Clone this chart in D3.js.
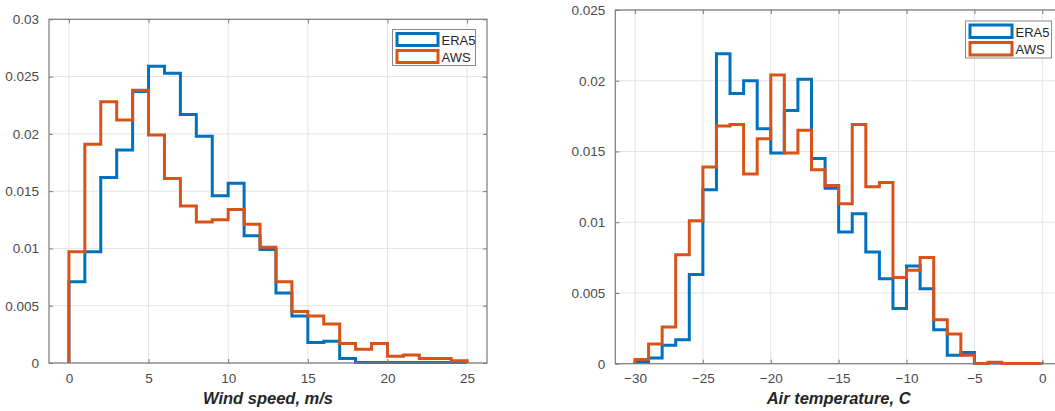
<!DOCTYPE html>
<html><head><meta charset="utf-8">
<script src="https://cdn.jsdelivr.net/npm/d3@7"></script>
<style>body{margin:0;background:#fff}svg{display:block}text{font-family:"Liberation Sans",Arial,sans-serif}</style>
</head><body>
<svg id="c" width="1055" height="411"></svg>
<script>
// ---- data ----
const seriesNames = ["ERA5", "AWS"];
const seriesColors = ["#0072BD", "#D95319"];

const windEdges = [0,1,2,3,4,5,6,7,8,9,10,11,12,13,14,15,16,17,18,19,20,21,22,23,24,25];
const windERA5 = [0.0071,0.0097,0.0162,0.0186,0.0237,0.0259,0.0253,0.0217,0.0198,0.0146,0.0157,0.0111,0.0099,0.0061,0.0041,0.0018,0.0019,0.0004,0.00005,0.00005,0.00005,0.00005,0.00005,0.00005,0.00005];
const windAWS  = [0.0097,0.0191,0.0228,0.0212,0.0238,0.0199,0.0161,0.0137,0.0123,0.0125,0.0134,0.0121,0.0101,0.0071,0.0045,0.0041,0.0034,0.0017,0.0012,0.0017,0.0006,0.0007,0.0004,0.0004,0.0002];
const windXTicks = [0,5,10,15,20,25];
const windYTicks = [0,0.005,0.01,0.015,0.02,0.025,0.03];

const tempEdges = [-30,-29,-28,-27,-26,-25,-24,-23,-22,-21,-20,-19,-18,-17,-16,-15,-14,-13,-12,-11,-10,-9,-8,-7,-6,-5,-4,-3,-2,-1,0];
const tempERA5 = [0.0001,0.0004,0.0013,0.0017,0.0063,0.0123,0.0219,0.0191,0.0200,0.0166,0.0149,0.0179,0.0201,0.0145,0.0124,0.0093,0.0106,0.0079,0.0060,0.0039,0.0069,0.0053,0.0024,0.0006,0.0008,0.00002,0.00005,0.00002,0.00001,0.00001];
const tempAWS  = [0.0003,0.0014,0.0026,0.0077,0.0101,0.0139,0.0168,0.0169,0.0134,0.0159,0.0204,0.0149,0.0165,0.0137,0.0126,0.0113,0.0169,0.0125,0.0128,0.0061,0.0066,0.0075,0.0031,0.0021,0.0006,0.00002,0.0001,0.00002,0.00001,0.00001];
const tempXTicks = [-30,-25,-20,-15,-10,-5,0];
const tempYTicks = [0,0.005,0.01,0.015,0.02,0.025];

const svg = d3.select("#c");

function panel(cfg){
  const g = svg.append("g");
  const x = d3.scaleLinear().domain(cfg.xDomain).range([cfg.left, cfg.right]);
  const y = d3.scaleLinear().domain(cfg.yDomain).range([cfg.bottom, cfg.top]);
  // grid
  g.append("g").selectAll("line.gx").data(cfg.xTicks).join("line")
    .attr("x1", d=>x(d)).attr("x2", d=>x(d)).attr("y1", cfg.top).attr("y2", cfg.bottom)
    .attr("stroke", "#e3e3e3").attr("stroke-width", 1);
  g.append("g").selectAll("line.gy").data(cfg.yTicks).join("line")
    .attr("x1", cfg.left).attr("x2", cfg.right).attr("y1", d=>y(d)).attr("y2", d=>y(d))
    .attr("stroke", "#e3e3e3").attr("stroke-width", 1);
  // stairs
  const line = d3.line().x(d=>x(d[0])).y(d=>y(d[1])).curve(d3.curveStepAfter);
  cfg.series.forEach((vals, si) => {
    const e = cfg.edges;
    const pts = [[e[0], 0]];
    vals.forEach((v, i) => pts.push([e[i], v]));
    pts.push([e[vals.length], vals[vals.length-1]]);
    pts.push([e[vals.length], 0]);
    g.append("path").attr("d", line(pts)).attr("fill", "none")
      .attr("stroke", seriesColors[si]).attr("stroke-width", 3).attr("stroke-linejoin", "miter");
  });
  // frame
  g.append("rect").attr("x", cfg.left).attr("y", cfg.top)
    .attr("width", cfg.right - cfg.left).attr("height", cfg.bottom - cfg.top)
    .attr("fill", "none").attr("stroke", "#7a7a7a").attr("stroke-width", 1.2);
  // axes (inward ticks)
  const tc = "#7a7a7a";
  const ax = g.append("g").attr("transform", `translate(0,${cfg.bottom})`)
    .call(d3.axisBottom(x).tickValues(cfg.xTicks).tickSize(-4).tickPadding(10).tickFormat(d3.format("")));
  const axt = g.append("g").attr("transform", `translate(0,${cfg.top})`)
    .call(d3.axisTop(x).tickValues(cfg.xTicks).tickSize(-4).tickFormat(""));
  const ay = g.append("g").attr("transform", `translate(${cfg.left},0)`)
    .call(d3.axisLeft(y).tickValues(cfg.yTicks).tickSize(-4).tickPadding(10).tickFormat(d=>d3.format("")(+d.toFixed(3))));
  const ayr = g.append("g").attr("transform", `translate(${cfg.right},0)`)
    .call(d3.axisRight(y).tickValues(cfg.yTicks).tickSize(-4).tickFormat(""));
  [ax, axt, ay, ayr].forEach(a => {
    a.select(".domain").remove();
    a.selectAll(".tick line").attr("stroke", tc);
    a.selectAll("text").attr("fill", "#4a4a4a").style("font-size", "13.5px")
      .style("font-family", '"Liberation Sans",Arial,sans-serif');
  });
  // x label
  g.append("text").attr("x", (cfg.left + cfg.right)/2).attr("y", 403.5)
    .attr("text-anchor", "middle").attr("fill", "#262626")
    .style("font-size", "16.5px").style("font-weight", "bold").style("font-style", "italic")
    .text(cfg.xLabel);
  // legend
  const L = cfg.legend;
  g.append("rect").attr("x", L.x).attr("y", L.y).attr("width", L.w).attr("height", L.h)
    .attr("fill", "#fff").attr("stroke", "#8a8a8a").attr("stroke-width", 1);
  seriesNames.forEach((n, i) => {
    const yy = L.y + 3 + i * L.row;
    g.append("rect").attr("x", L.x + 4.5).attr("y", yy + 1).attr("width", L.sw).attr("height", L.row - 5)
      .attr("fill", "none").attr("stroke", seriesColors[i]).attr("stroke-width", 3);
    g.append("text").attr("x", L.x + 8 + L.sw).attr("y", yy + L.row - 5)
      .attr("fill", "#262626").style("font-size", "13px").text(n);
  });
}

panel({
  left: 49, right: 487, top: 19.3, bottom: 363,
  xDomain: [-1.25, 26.25], yDomain: [0, 0.03],
  xTicks: windXTicks, yTicks: windYTicks, edges: windEdges,
  series: [windERA5, windAWS], xLabel: "Wind speed, m/s",
  legend: {x: 392.5, y: 29.5, w: 83, h: 36, row: 17, sw: 41}
});
panel({
  left: 615.3, right: 1062, top: 10, bottom: 363.7,
  xDomain: [-31.45, 1.45], yDomain: [0, 0.025],
  xTicks: tempXTicks, yTicks: tempYTicks, edges: tempEdges,
  series: [tempERA5, tempAWS], xLabel: "Air temperature, C",
  legend: {x: 965.5, y: 21, w: 86, h: 37, row: 17.5, sw: 42}
});
</script>
</body></html>
